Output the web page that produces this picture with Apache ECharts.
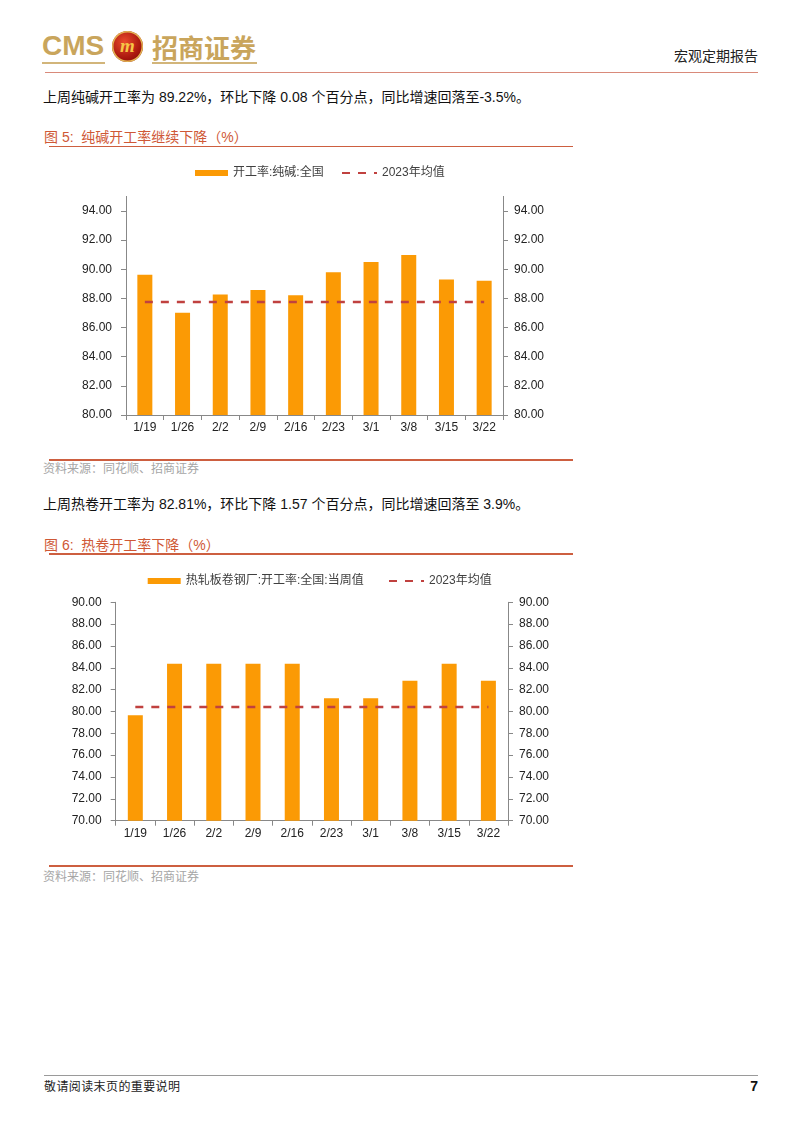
<!DOCTYPE html>
<html>
<head>
<meta charset="utf-8">
<script src="https://cdn.jsdelivr.net/npm/echarts@6/dist/echarts.min.js"></script>
<style>
body {
  margin: 0;
  width: 802px;
  height: 1133px;
  position: relative;
  background: #fff;
  overflow: hidden;
  font-family: "Liberation Sans", Arial, "Noto Sans CJK SC", sans-serif;
}
.abs { position: absolute; white-space: nowrap; }
.logo-cms { left: 42px; top: 32px; font-size: 28px; line-height: 28px; font-weight: bold; color: #c9a55c; }
.logo-cn { left: 152px; top: 34px; font-size: 26px; line-height: 26px; font-weight: bold; color: #c9a55c; font-family: "Noto Sans CJK SC", sans-serif; }
.gold-line { height: 1.5px; background: #d2b57a; top: 62px; }
.emblem {
  left: 112px; top: 31px; width: 31px; height: 31px; border-radius: 50%;
  background: radial-gradient(circle at 40% 35%, #ea4a2c, #a8170d 60%, #6d0a05);
  box-shadow: inset 0 0 0 1.5px #e2b352;
  text-align: center; color: #f6c646; font: italic bold 19px/29px "Liberation Serif", serif;
}
.head-line { left: 45px; width: 713px; top: 72px; height: 1px; background: #d98a7a; }
.head-right { right: 44px; top: 48px; font-size: 14px; line-height: 14px; color: #222; font-family: "Noto Sans CJK SC", sans-serif; }
.body-text { left: 43px; font-size: 14px; line-height: 14px; color: #111; }
.fig-title { left: 44px; font-size: 14px; line-height: 14px; color: #cf5836; }
.red-line { left: 49px; width: 524px; height: 1.5px; background: #cd5f40; }
.source { left: 43px; font-size: 12px; line-height: 12px; color: #a6a6a6; font-family: "Noto Sans CJK SC", sans-serif; }
.chart { left: 0; width: 802px; height: 300px; }
.foot-line { left: 44px; width: 714px; top: 1075px; height: 1px; background: #9a9a9a; }
.foot-text { left: 44px; top: 1080px; font-size: 12px; line-height: 12px; letter-spacing: 0.4px; color: #222; font-family: "Noto Sans CJK SC", sans-serif; }
.page-no { right: 44px; top: 1079px; font-size: 14px; line-height: 14px; font-weight: bold; color: #111; }
</style>
</head>
<body>
<div class="abs logo-cms">CMS</div>
<div class="abs emblem">m</div>
<div class="abs logo-cn">招商证券</div>
<div class="abs gold-line" style="left:42px;width:63px"></div>
<div class="abs gold-line" style="left:152px;width:105px"></div>
<div class="abs head-line"></div>
<div class="abs head-right">宏观定期报告</div>

<div class="abs body-text" style="top:90px">上周纯碱开工率为 89.22%，环比下降 0.08 个百分点，同比增速回落至-3.5%。</div>
<div class="abs fig-title" style="top:130px">图 5:&nbsp; 纯碱开工率继续下降（%）</div>
<div class="abs red-line" style="top:145.5px"></div>
<div class="abs chart" id="sodaChart" style="top:150px"></div>
<div class="abs red-line" style="top:459px"></div>
<div class="abs source" style="top:462px">资料来源：同花顺、招商证券</div>

<div class="abs body-text" style="top:497px">上周热卷开工率为 82.81%，环比下降 1.57 个百分点，同比增速回落至 3.9%。</div>
<div class="abs fig-title" style="top:538px">图 6:&nbsp; 热卷开工率下降（%）</div>
<div class="abs red-line" style="top:553px"></div>
<div class="abs chart" id="hrcChart" style="top:555px"></div>
<div class="abs red-line" style="top:865px"></div>
<div class="abs source" style="top:870px">资料来源：同花顺、招商证券</div>

<div class="abs foot-line"></div>
<div class="abs foot-text">敬请阅读末页的重要说明</div>
<div class="abs page-no">7</div>

<script>
const weeks = ['1/19', '1/26', '2/2', '2/9', '2/16', '2/23', '3/1', '3/8', '3/15', '3/22']

// 图5 纯碱
const sodaName = '开工率:纯碱:全国'
const sodaRate = [89.62, 87.02, 88.26, 88.58, 88.21, 89.80, 90.50, 90.98, 89.30, 89.22]
const sodaAvg2023 = [87.76, 87.76, 87.76, 87.76, 87.76, 87.76, 87.76, 87.76, 87.76, 87.76]
const sodaTicks = [80, 82, 84, 86, 88, 90, 92, 94]

// 图6 热卷
const hrcName = '热轧板卷钢厂:开工率:全国:当周值'
const hrcRate = [79.65, 84.38, 84.38, 84.38, 84.38, 81.22, 81.22, 82.81, 84.38, 82.81]
const hrcAvg2023 = [80.41, 80.41, 80.41, 80.41, 80.41, 80.41, 80.41, 80.41, 80.41, 80.41]
const hrcTicks = [70, 72, 74, 76, 78, 80, 82, 84, 86, 88, 90]

const avgName = '2023年均值'
const barColor = '#fb9a05'
const avgColor = '#c0413f'
const axisColor = '#888'
const fontFamily = '"Liberation Sans", Arial, "Noto Sans CJK SC", sans-serif'

const makeYAxis = (pos, min, max, ticks, margin) => ({
  type: 'value',
  position: pos,
  min,
  max,
  interval: 2,
  splitLine: { show: false },
  axisLine: { show: true, lineStyle: { color: axisColor } },
  axisTick: { show: true, length: 5, lineStyle: { color: axisColor }, customValues: ticks },
  axisLabel: {
    color: '#222',
    fontSize: 12,
    fontFamily,
    margin,
    customValues: ticks,
    formatter: v => v.toFixed(2)
  }
})

const buildOption = cfg => ({
  animation: false,
  textStyle: { fontFamily },
  grid: {
    left: cfg.grid[0], right: cfg.grid[1], top: cfg.grid[2], bottom: cfg.grid[3],
    containLabel: false,
    outerBoundsMode: 'none'
  },
  legend: [
    {
      data: [{ name: cfg.barName, icon: 'rect' }],
      left: cfg.legendLeft[0],
      top: cfg.legendTop,
      itemWidth: 33,
      itemHeight: 6,
      textStyle: { fontSize: 12, color: '#404040', fontFamily }
    },
    {
      // 只保留虚线，隐藏默认圆点
      data: [{ name: avgName, itemStyle: { opacity: 0 } }],
      left: cfg.legendLeft[1],
      top: cfg.legendTop,
      itemWidth: 35,
      itemHeight: 10,
      textStyle: { fontSize: 12, color: '#404040', fontFamily }
    }
  ],
  xAxis: {
    type: 'category',
    data: weeks,
    axisLine: { lineStyle: { color: axisColor } },
    axisTick: { show: true, length: 5, lineStyle: { color: axisColor } },
    axisLabel: { color: '#222', fontSize: 12, fontFamily, margin: 7, interval: 0 }
  },
  yAxis: [
    makeYAxis('left', cfg.min, cfg.max, cfg.ticks, 14),
    makeYAxis('right', cfg.min, cfg.max, cfg.ticks, 11)
  ],
  series: [
    {
      name: cfg.barName,
      type: 'bar',
      data: cfg.bars,
      barWidth: 15,
      itemStyle: { color: barColor }
    },
    {
      name: avgName,
      type: 'line',
      data: cfg.avg,
      symbol: 'none',
      z: 5,
      lineStyle: { color: avgColor, width: 2.5, type: [8, 8] },
      itemStyle: { color: avgColor }
    }
  ]
})

const sodaChart = echarts.init(document.getElementById('sodaChart'))
sodaChart.setOption(buildOption({
  barName: sodaName,
  bars: sodaRate,
  avg: sodaAvg2023,
  ticks: sodaTicks,
  min: 80,
  max: 95,
  grid: [126, 299, 46.4, 35],
  legendLeft: [190, 336],
  legendTop: 12
}))

const hrcChart = echarts.init(document.getElementById('hrcChart'))
hrcChart.setOption(buildOption({
  barName: hrcName,
  bars: hrcRate,
  avg: hrcAvg2023,
  ticks: hrcTicks,
  min: 70,
  max: 90,
  grid: [115.7, 294, 47.3, 34.3],
  legendLeft: [142.7, 383],
  legendTop: 15
}))
</script>
</body>
</html>
